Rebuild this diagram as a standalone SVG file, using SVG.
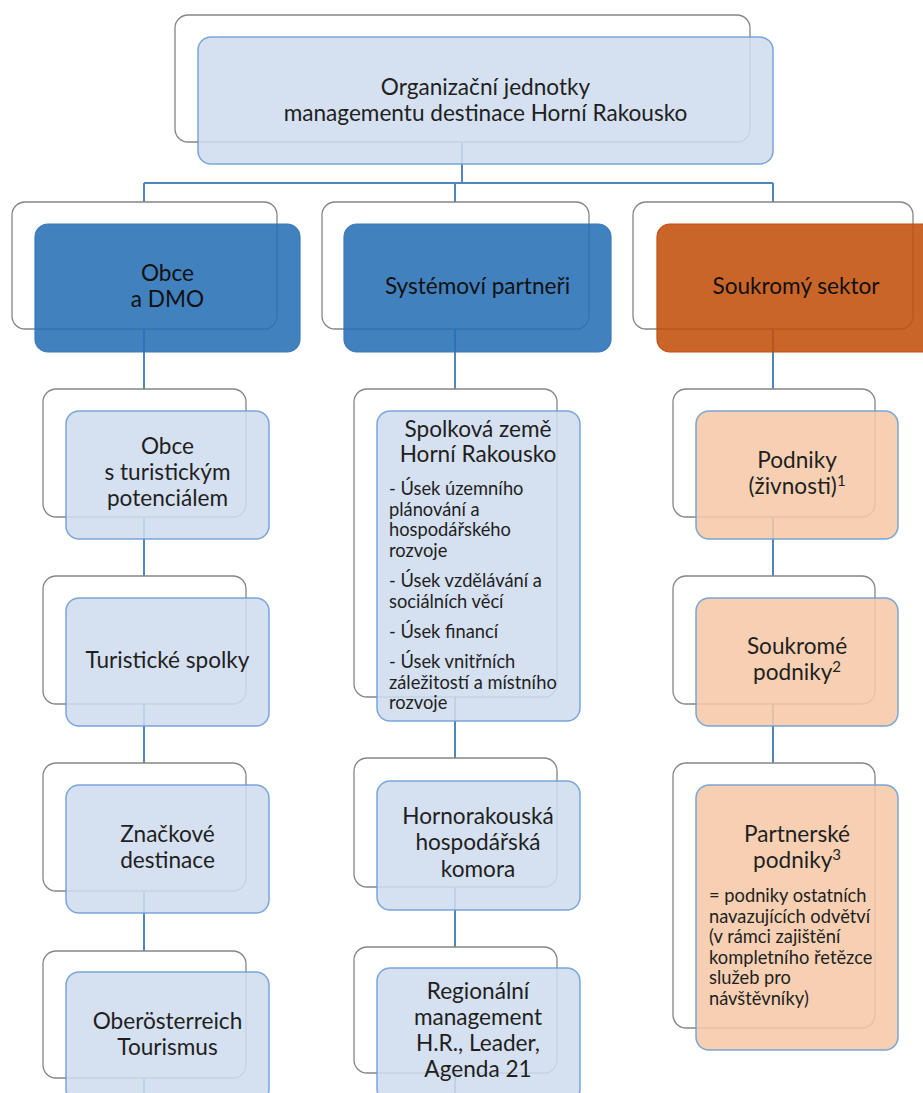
<svg xmlns="http://www.w3.org/2000/svg" width="923" height="1093" viewBox="0 0 923 1093">
  <style>
    .frame { fill: #ffffff; stroke: #858585; stroke-width: 1.3; }
    .light { fill: #cfdcee; fill-opacity: 0.88; stroke: #6e9fd6; stroke-width: 1.5; stroke-opacity: 0.9; }
    .peach { fill: #f6c8a7; fill-opacity: 0.88; stroke: #6e9fd6; stroke-width: 1.5; stroke-opacity: 0.9; }
    .blue { fill: #276fb5; fill-opacity: 0.88; stroke: #3a7ab9; stroke-width: 1.2; }
    .orange { fill: #c2500b; fill-opacity: 0.88; stroke: #c2500b; stroke-width: 1.2; }
    .link { fill: none; stroke: #4f86c2; stroke-width: 2; }
    text { font-family: Lato, "Noto Sans", sans-serif; fill: #1f1f1f; }
    .big { font-size: 22.6px; text-anchor: middle; }
    .small { font-size: 18.3px; }
    .dark { fill: #111111; }
    .sup { font-size: 15px; }
  </style>

  <!-- connectors: drawn first so the white frames hide them -->
  <g id="connectors">
    <path class="link" d="M462,142 V183 M144,183 H773 M144,183 V1093 M455,183 V1093 M773,183 V1028"/>
  </g>

  <!-- root -->
  <g id="root">
    <rect class="frame" x="175" y="15" width="575" height="127" rx="13"/>
    <rect class="light" x="198" y="37" width="575" height="127" rx="13"/>
    <text class="big" x="485.5" y="95">Organizační jednotky</text>
    <text class="big" x="485.5" y="121">managementu destinace Horní Rakousko</text>
  </g>

  <!-- second level -->
  <g id="obce-dmo">
    <rect class="frame" x="12" y="202" width="265" height="127" rx="13"/>
    <rect class="blue" x="35" y="224" width="265" height="128" rx="13"/>
    <text class="big dark" x="167.5" y="281">Obce</text>
    <text class="big dark" x="167.5" y="307">a DMO</text>
  </g>
  <g id="systemovi-partneri">
    <rect class="frame" x="322" y="202" width="267" height="127" rx="13"/>
    <rect class="blue" x="344" y="224" width="267" height="128" rx="13"/>
    <text class="big dark" x="477.5" y="294">Systémoví partneři</text>
  </g>
  <g id="soukromy-sektor">
    <rect class="frame" x="633" y="202" width="280" height="127" rx="13"/>
    <rect class="orange" x="657" y="224" width="280" height="128" rx="13"/>
    <text class="big dark" x="796" y="294">Soukromý sektor</text>
  </g>

  <!-- left column -->
  <g id="obce-potencial">
    <rect class="frame" x="43" y="389" width="203" height="128" rx="13"/>
    <rect class="light" x="66" y="411" width="203" height="128" rx="13"/>
    <text class="big" x="167.5" y="454">Obce</text>
    <text class="big" x="167.5" y="480">s turistickým</text>
    <text class="big" x="167.5" y="506">potenciálem</text>
  </g>
  <g id="turisticke-spolky">
    <rect class="frame" x="43" y="576" width="203" height="128" rx="13"/>
    <rect class="light" x="66" y="598" width="203" height="128" rx="13"/>
    <text class="big" x="167.5" y="668">Turistické spolky</text>
  </g>
  <g id="znackove-destinace">
    <rect class="frame" x="43" y="763" width="203" height="128" rx="13"/>
    <rect class="light" x="66" y="785" width="203" height="128" rx="13"/>
    <text class="big" x="167.5" y="842">Značkové</text>
    <text class="big" x="167.5" y="868">destinace</text>
  </g>
  <g id="ooe-tourismus">
    <rect class="frame" x="43" y="951" width="203" height="127" rx="13"/>
    <rect class="light" x="66" y="972" width="203" height="130" rx="13"/>
    <text class="big" x="167.5" y="1029">Oberösterreich</text>
    <text class="big" x="167.5" y="1055">Tourismus</text>
  </g>

  <!-- middle column -->
  <g id="spolkova-zeme">
    <rect class="frame" x="354" y="389" width="203" height="308" rx="13"/>
    <rect class="light" x="377" y="411" width="203" height="310" rx="13"/>
    <text class="big" x="478" y="437">Spolková země</text>
    <text class="big" x="478" y="462">Horní Rakousko</text>
    <text class="small" x="389" y="495">- Úsek územního</text>
    <text class="small" x="389" y="515.5">plánování a</text>
    <text class="small" x="389" y="536">hospodářského</text>
    <text class="small" x="389" y="556.5">rozvoje</text>
    <text class="small" x="389" y="587">- Úsek vzdělávání a</text>
    <text class="small" x="389" y="607.5">sociálních věcí</text>
    <text class="small" x="389" y="638">- Úsek financí</text>
    <text class="small" x="389" y="668">- Úsek vnitřních</text>
    <text class="small" x="389" y="688.5">záležitostí a místního</text>
    <text class="small" x="389" y="709">rozvoje</text>
  </g>
  <g id="hospodarska-komora">
    <rect class="frame" x="354" y="758" width="203" height="129" rx="13"/>
    <rect class="light" x="377" y="781" width="203" height="129" rx="13"/>
    <text class="big" x="478" y="824">Hornorakouská</text>
    <text class="big" x="478" y="850">hospodářská</text>
    <text class="big" x="478" y="877">komora</text>
  </g>
  <g id="regionalni-management">
    <rect class="frame" x="354" y="947" width="203" height="126" rx="13"/>
    <rect class="light" x="377" y="968" width="203" height="134" rx="13"/>
    <text class="big" x="478" y="999">Regionální</text>
    <text class="big" x="478" y="1025">management</text>
    <text class="big" x="478" y="1051">H.R., Leader,</text>
    <text class="big" x="478" y="1077">Agenda 21</text>
  </g>

  <!-- right column -->
  <g id="podniky-zivnosti">
    <rect class="frame" x="673" y="389" width="202" height="128" rx="13"/>
    <rect class="peach" x="696" y="411" width="202" height="128" rx="13"/>
    <text class="big" x="797" y="468">Podniky</text>
    <text class="big" x="797" y="494">(živnosti)<tspan class="sup" dy="-8">1</tspan></text>
  </g>
  <g id="soukrome-podniky">
    <rect class="frame" x="673" y="576" width="202" height="128" rx="13"/>
    <rect class="peach" x="696" y="598" width="202" height="128" rx="13"/>
    <text class="big" x="797" y="654">Soukromé</text>
    <text class="big" x="797" y="680">podniky<tspan class="sup" dy="-8">2</tspan></text>
  </g>
  <g id="partnerske-podniky">
    <rect class="frame" x="673" y="763" width="202" height="265" rx="13"/>
    <rect class="peach" x="696" y="785" width="202" height="265" rx="13"/>
    <text class="big" x="797" y="842">Partnerské</text>
    <text class="big" x="797" y="868">podniky<tspan class="sup" dy="-8">3</tspan></text>
    <text class="small" x="709" y="902">= podniky ostatních</text>
    <text class="small" x="709" y="922.5">navazujících odvětví</text>
    <text class="small" x="709" y="943">(v rámci zajištění</text>
    <text class="small" x="709" y="963.5">kompletního řetězce</text>
    <text class="small" x="709" y="984">služeb pro</text>
    <text class="small" x="709" y="1004.5">návštěvníky)</text>
  </g>
</svg>
